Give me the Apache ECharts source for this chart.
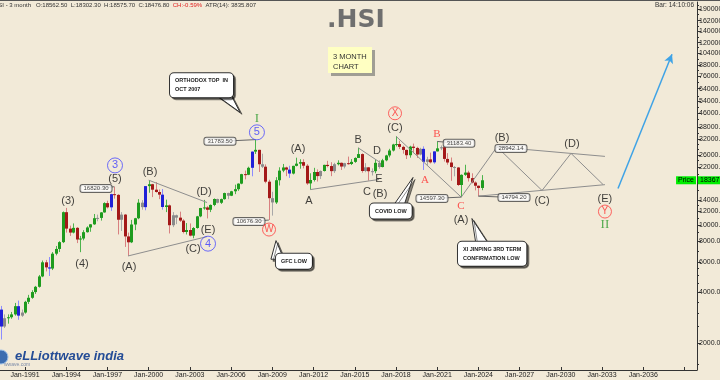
<!DOCTYPE html>
<html><head><meta charset="utf-8">
<script src="https://cdn.jsdelivr.net/npm/echarts@6/dist/echarts.min.js"></script>
<style>html,body{margin:0;padding:0;background:#f2ead8;overflow:hidden}#c{width:720px;height:380px}</style>
</head><body><div id="c"></div>
<script>
// ---------------- DATA ----------------
const firstYear = 1989; // first quarter = 1989 Q1
// [open, high, low, close] per quarter
const ohlc = [
 [2690,3200,2650,3150],[3150,3310,2093,2500],[2500,2950,2450,2800],[2800,2950,2600,2837],
 [2837,3050,2780,2950],[2950,3450,2900,3300],[3300,3560,2740,2900],[2900,3150,2850,3025],
 [3025,3550,2980,3500],[3500,3850,3400,3700],[3700,4100,3650,4000],[4000,4350,3900,4297],
 [4297,5050,4250,4950],[4950,6150,4900,6000],[6000,6200,5300,5600],[5600,6450,4980,5512],
 [5512,6900,5400,6750],[6750,7500,6600,7200],[7200,8000,6900,7900],[7900,12000,7800,11888],
 [11888,12599,9000,9500],[9500,9900,8600,9000],[9000,10200,8900,9600],[9600,9700,7800,8191],
 [8191,8600,6890,8300],[8300,9300,8100,9050],[9050,9800,9000,9650],[9650,10100,9100,10073],
 [10073,11600,10000,10950],[10950,11500,10500,10995],[10995,11900,10600,11850],[11850,13600,11800,13451],
 [13451,13900,12500,12700],[12700,15300,12100,15197],[15197,16820,14300,15050],[15050,15200,8775,10722],
 [10722,11900,9200,11500],[11500,11600,7400,8543],[8543,9000,6544,7883],[7883,10700,7800,10049],
 [10049,11000,9300,10942],[10942,14200,10800,13532],[13532,14000,12300,12733],[12733,16962,12200,16962],
 [16962,18397,15500,17407],[17407,17500,14600,16155],[16155,17900,15500,15649],[15649,16200,14200,15096],
 [15096,16300,12300,12761],[12761,14100,11900,13043],[13043,13200,8894,9951],[9951,11900,9700,11397],
 [11397,11500,10100,11033],[11033,11975,10400,10598],[10598,10800,8900,9072],[9072,10250,8772,9321],
 [9321,10200,8550,8634],[8634,9700,8331,9577],[9577,11300,9500,11230],[11230,12600,11100,12576],
 [12576,14058,12300,12682],[12682,12900,10917,12285],[12285,13200,11900,13120],[13120,14339,12900,14230],
 [14230,14300,13400,13516],[13516,14300,13300,14201],[14201,15508,14100,15429],[15429,15500,14200,14876],
 [14876,15900,14800,15805],[15805,17300,15200,16267],[16267,17600,15900,17543],[17543,20050,17400,19965],
 [19965,20971,18600,19800],[19800,22100,19700,21773],[21773,27254,19386,27142],[27142,31958,26300,27813],
 [27813,27853,20572,22849],[22849,26387,21700,22102],[22102,22800,17637,18016],[18016,18500,10676,14387],
 [14387,15700,11344,13576],[13576,19161,13300,18379],[18379,21929,17100,20955],[20955,22943,20500,21873],
 [21873,22100,19423,21239],[21239,22388,18971,20129],[20129,22400,19900,22359],[22359,24988,22200,23035],
 [23035,24468,21508,23528],[23528,24468,21600,22398],[22398,22900,17250,17592],[17592,20200,16170,18434],
 [18434,21760,18056,20556],[20556,21300,18056,19441],[19441,21000,18700,20840],[20840,22700,20700,22657],
 [22657,23944,21900,22300],[22300,23500,19426,20803],[20803,23300,20300,22860],[22860,24111,22500,23306],
 [23306,23400,21137,22151],[22151,23300,21600,23191],[23191,25362,22700,22933],[22933,24500,22600,23605],
 [23605,25100,23300,24901],[24901,28588,24900,26250],[26250,26500,20368,20846],[20846,23200,20500,21914],
 [21914,22000,18278,20777],[20777,21600,19600,20794],[20794,24364,20200,23297],[23297,24100,21488,22001],
 [22001,24600,21900,24112],[24112,26000,23800,25765],[25765,28200,25100,27555],[27555,30200,27200,29919],
 [29919,33484,29100,30093],[30093,31500,28100,28955],[28955,29400,26400,27789],[27789,27900,24541,25846],
 [25846,29400,25000,29051],[29051,30280,26600,28543],[28543,29000,24900,26092],[26092,28600,25800,28190],
 [28190,29175,21139,23603],[23603,25303,22520,24427],[24427,26782,23100,23459],[23459,27300,23000,27231],
 [27231,31183,27200,28378],[28378,29500,27700,28828],[28828,29100,23700,24576],[24576,26600,22700,23398],
 [23398,25050,18235,21997],[21997,22300,19380,21860],[21860,22000,17000,17223],[17223,19900,14597,19781],
 [19781,22700,19500,20400],[20400,20900,18044,18916],[18916,20200,17600,17809],[17809,18100,16000,17047],
 [17047,17100,14794,16541],[16541,19706,16044,18367]
];
const lastPrice = 18367;
const xTickYears = [1991,1994,1997,2000,2003,2006,2009,2012,2015,2018,2021,2024,2027,2030,2033,2036,2039];
const xLabelYears = [1991,1994,1997,2000,2003,2006,2009,2012,2015,2018,2021,2024,2027,2030,2033,2036];
const yTickLabels = [2000,4000,6000,8000,10000,12000,14000,22000,26000,32000,38000,46000,54000,64000,76000,88000,104000,120000,140000,162000,190000];
const yMinorTicks = [1500,2500,3000,3500,4500,5000,5500,7000,9000,11000,13000,16000,18000,20000,24000,28000,30000,35000,42000,50000,58000,70000,82000,96000,112000,130000,150000,176000,200000];

// wave labels: [text, year, value]
const waveLabels = [
 ["(3)",1994.13,13940],["(4)",1995.15,5890],["(5)",1997.55,18570],["(A)",1998.57,5650],
 ["(B)",2000.10,20440],["(C)",2003.23,7230],["(D)",2004.03,15760],["(E)",2004.32,9380],
 ["(A)",2010.87,28000],["A",2011.67,13940],["B",2015.24,31650],["D",2016.62,27230],
 ["E",2016.76,18570],["C",2015.89,15760],["(B)",2016.84,15340],["(C)",2017.93,37300],
 ["(A)",2022.73,10750],["(B)",2025.72,32530],["(C)",2028.63,13940],["(D)",2030.81,29960],
 ["(E)",2033.21,14320]
];
const redLetters = [["A",2020.11,18320],["B",2020.98,34370],["C",2022.73,12840]];
const romanLabels = [["I",2007.88,42760],["II",2033.21,10040]];
const circledBlue = [["3",1997.55,22490],["4",2004.32,7740],["5",2007.88,35320]];
const circledRed = [["W",2008.76,9380],["X",2017.93,45790],["Y",2033.21,11990]];
// value boxes: [text, boxYear, boxValue, pointYear, pointValue]
const valueBoxes = [
 ["16820.30",1996.17,16420,1997.5,16820],
 ["31783.50",2005.19,31220,2007.75,31958],
 ["10676.30",2007.30,10460,2008.75,10676],
 ["31183.40",2022.59,30380,2021.0,31183],
 ["14597.30",2020.62,14320,2022.75,14597],
 ["28942.14",2026.37,28370,2025.35,28942],
 ["14794.20",2026.59,14520,2024.0,14794]
];
// wave / triangle lines
const waveLines = [
 [[2000.0,18397],[2004.25,13560]],
 [[1998.5,6544],[2004.25,8520]],
 [[2015.25,28588],[2016.84,23430]],
 [[2011.75,16170],[2016.76,18570]],
 [[2018.0,33484],[2022.75,14597]],
 [[2022.75,14597],[2025.35,28942],[2028.63,15980],[2030.74,26500],[2033.07,17340]],
 [[2025.35,28942],[2033.21,25440]],
 [[2024.0,14794],[2033.21,17300]]
];
const arrowLine = [[2034.16,16420],[2038.09,102500]];
// callouts: [text, boxLeftYear, boxMidValue, tipYear, tipValue]
const callouts = [
 ["ORTHODOX TOP  IN\nOCT 2007",2001.19,67140,2006.65,46400],
 ["COVID LOW",2015.74,12070,2019.24,19080],
 ["GFC LOW",2008.90,6090,2009.27,8070],
 ["XI JINPING 3RD TERM\nCONFIRMATION LOW",2022.15,6750,2023.53,10900]
];

// ---------------- RENDER ----------------
const FONT = '"Liberation Sans", Arial, sans-serif';
const SERIF = '"Liberation Serif", "Times New Roman", serif';
const tailBase = [[40,2,62,2],[26,-2,38,-2],[0,-2,13,-2],[24,-3,40,-3]];
const bodyColors = ['#1e9b1e','#a31818','#2020d8','#8a8a8a'];
const wickColors = ['#4cb44c','#d88080','#8c8cff','#a8a8a8'];

const candleData = ohlc.map((d,i)=>{
  const prev = ohlc[i-1];
  let k = d[3] >= d[0] ? 0 : 1;
  if (prev) {
    if (d[1] > prev[1] && d[2] < prev[2]) k = 2;
    else if (d[1] < prev[1] && d[2] > prev[2]) k = 3;
  }
  return [firstYear + i/4, d[0], d[3], d[2], d[1], k];
});

function renderCandle(params, api){
  const x = api.value(0), o = api.value(1), c = api.value(2), l = api.value(3), h = api.value(4), k = api.value(5);
  const pH = api.coord([x,h]), pL = api.coord([x,l]), pO = api.coord([x,o]), pC = api.coord([x,c]);
  const cx = Math.round(pH[0]);
  const top = Math.min(pO[1],pC[1]), bot = Math.max(pO[1],pC[1]);
  return {type:'group', children:[
    {type:'line', shape:{x1:cx+0.5,y1:pH[1],x2:cx+0.5,y2:pL[1]}, style:{stroke:wickColors[k],lineWidth:1}},
    {type:'rect', shape:{x:cx-1,y:top,width:3,height:Math.max(1,bot-top)}, style:{fill:bodyColors[k]}}
  ]};
}

function renderCallout(params, api){
  const c = callouts[params.dataIndex];
  const a = api.coord([c[1],c[2]]);
  const t = api.coord([c[3],c[4]]);
  const b = tailBase[params.dataIndex];
  return {type:'group', children:[
    {type:'polygon', shape:{points:[[a[0]+b[0],a[1]+b[1]],t,[a[0]+b[2],a[1]+b[3]]]},
     style:{fill:'#fff',stroke:'#333',lineWidth:1,shadowColor:'rgba(0,0,0,0.45)',shadowOffsetX:2,shadowOffsetY:2}},
    {type:'text', x:a[0]+5, y:a[1], style:{text:c[0], fill:'#222', font:'bold 5.5px '+FONT, align:'left', verticalAlign:'middle',
      backgroundColor:'#fff', borderColor:'#333', borderWidth:1, borderRadius:4, padding:[3,5,3,5], lineHeight:9,
      shadowColor:'rgba(0,0,0,0.45)', shadowOffsetX:2, shadowOffsetY:2}}
  ]};
}

function labelSeries(arr, label, extra){
  return Object.assign({type:'scatter', silent:true, z:6, animation:false,
    data: arr.map(a=>[a[1],a[2],a[0]]), symbolSize:1, itemStyle:{color:'rgba(0,0,0,0)'},
    label: Object.assign({show:true, position:'inside', formatter:p=>p.data[2]}, label)}, extra||{});
}

const series = [];
series.push({type:'custom', renderItem:renderCandle, data:candleData, encode:{x:0,y:[1,2,3,4]}, clip:true, silent:true, z:2, animation:false});
waveLines.forEach(l=>series.push({type:'line', data:l, symbol:'none', silent:true, z:3, clip:true, animation:false,
  lineStyle:{color:'#8e8e8e', width:1}}));
valueBoxes.forEach(v=>series.push({type:'line', data:[[v[3],v[4]],[v[1],v[2]]], symbol:'none', silent:true, z:3, animation:false,
  lineStyle:{color:'#666', width:1}}));
series.push({type:'line', data:[], silent:true, animation:false, markLine:{silent:true, animation:false, symbol:['none','arrow'], symbolSize:[7,9],
  lineStyle:{color:'#3fa3e6', width:1.5, type:'solid'}, label:{show:false},
  data:[[{coord:arrowLine[0]},{coord:arrowLine[1]}]]}});
series.push({type:'line', data:[], silent:true, animation:false, z:8, markLine:{silent:true, animation:false, symbol:['none','none'],
  lineStyle:{color:'rgba(0,0,0,0)', width:0.1},
  data:[
   {yAxis:lastPrice, label:{show:true, position:'end', distance:1, formatter:lastPrice.toFixed(1), backgroundColor:'#00ee00', color:'#000', fontSize:7, padding:[1,2,0,2], fontFamily:FONT}},
   {yAxis:lastPrice, label:{show:true, position:'insideEnd', distance:1, formatter:'Price', backgroundColor:'#00ee00', color:'#000', fontSize:7, padding:[1,2,0,2], fontFamily:FONT}}
  ]}});
series.push({type:'custom', renderItem:renderCallout, data:callouts.map(c=>[c[1],c[2],c[3],c[4]]), encode:{x:[0,2],y:[1,3]}, silent:true, z:7, animation:false});
series.push(labelSeries(valueBoxes, {fontSize:6, color:'#111', fontFamily:FONT, backgroundColor:'#fff', borderColor:'#444', borderWidth:1, borderRadius:2, padding:[1,3,0,3]}, {z:5}));
series.push(labelSeries(waveLabels, {fontSize:11, color:'#111', fontFamily:FONT}));
series.push(labelSeries(redLetters, {fontSize:11, color:'#ff2a2a', fontFamily:SERIF}));
series.push(labelSeries(romanLabels, {fontSize:13, color:'#2a9a2a', fontFamily:SERIF}));
series.push(labelSeries(circledBlue, {fontSize:11, color:'#3a3aff', fontFamily:FONT}, {symbol:'circle', symbolSize:15, itemStyle:{color:'rgba(0,0,0,0)', borderColor:'#4a4aff', borderWidth:1}}));
series.push(labelSeries(circledRed, {fontSize:10, color:'#ff3030', fontFamily:FONT}, {symbol:'circle', symbolSize:13, itemStyle:{color:'rgba(0,0,0,0)', borderColor:'#ff4040', borderWidth:1}}));

const chart = echarts.init(document.getElementById('c'));
chart.setOption({
  animation:false,
  backgroundColor:'#f2ead8',
  textStyle:{fontFamily:FONT},
  title:{text:'.HSI', left:322, top:3, textStyle:{fontSize:25, fontWeight:'bold', color:'#6f6f6f', fontFamily:'"DejaVu Sans", sans-serif'}},
  grid:{left:0, right:23, top:2, bottom:10, outerBoundsMode:'none', containLabel:false},
  xAxis:{type:'value', min:1989.18, max:2039.91,
    axisLine:{lineStyle:{color:'#333', width:1}},
    axisTick:{customValues:xTickYears, inside:true, length:3, lineStyle:{color:'#333'}},
    axisLabel:{customValues:xLabelYears, formatter:v=>'Jan-'+Math.round(v), fontSize:7, color:'#222', margin:2},
    splitLine:{show:false}},
  yAxis:[
   {type:'log', logBase:10, position:'right', min:1382, max:208800,
    axisLine:{show:true, lineStyle:{color:'#333'}},
    axisTick:{customValues:yTickLabels, length:4, lineStyle:{color:'#333'}},
    axisLabel:{customValues:yTickLabels, formatter:v=>Number(v).toFixed(2), fontSize:7, color:'#222', margin:2},
    splitLine:{show:false}},
   {type:'log', logBase:10, position:'right', min:1382, max:208800,
    axisLine:{show:false},
    axisTick:{customValues:yMinorTicks, length:2, lineStyle:{color:'#333'}},
    axisLabel:{show:false}, splitLine:{show:false}}
  ],
  graphic:[
    {type:'rect', left:0, top:0, shape:{width:720,height:1}, style:{fill:'#555'}, silent:true},
    {type:'text', left:-6, top:2, silent:true, style:{text:'HSI - 3 month   {b|O:18562.50  L:18302.30  H:18575.70  C:18476.80}  {r|CH:-0.59%}  {b|ATR(14): 3835.807}',
      font:'6px '+FONT, fill:'#333', rich:{b:{fontSize:6, fill:'#333'}, r:{fontSize:6, fill:'#e02020'}}}},
    {type:'text', left:655, top:2, silent:true, style:{text:'Bar: 14:10:06', font:'6.5px '+FONT, fill:'#333'}},
    {type:'group', left:328, top:47, silent:true, children:[
      {type:'rect', shape:{x:3,y:3,width:44,height:26}, style:{fill:'#a09e94'}},
      {type:'rect', shape:{x:0,y:0,width:44,height:26}, style:{fill:'#ffffc2'}},
      {type:'text', x:5, y:5, style:{text:'3 MONTH\nCHART', font:'7.5px '+FONT, fill:'#333', lineHeight:10}}
    ]},
    {type:'circle', shape:{cx:1,cy:357,r:7}, style:{fill:'#3c6db0', stroke:'#9cc0e8', lineWidth:1}, silent:true},
    {type:'text', left:15, top:350, silent:true, style:{text:'eLLiottwave india', font:'italic bold 13px '+FONT, fill:'#244c96'}},
    {type:'text', left:4, top:362, silent:true, style:{text:'wwave.com', font:'5px '+FONT, fill:'#7a8aa8'}}
  ],
  series: series
});
</script></body></html>
